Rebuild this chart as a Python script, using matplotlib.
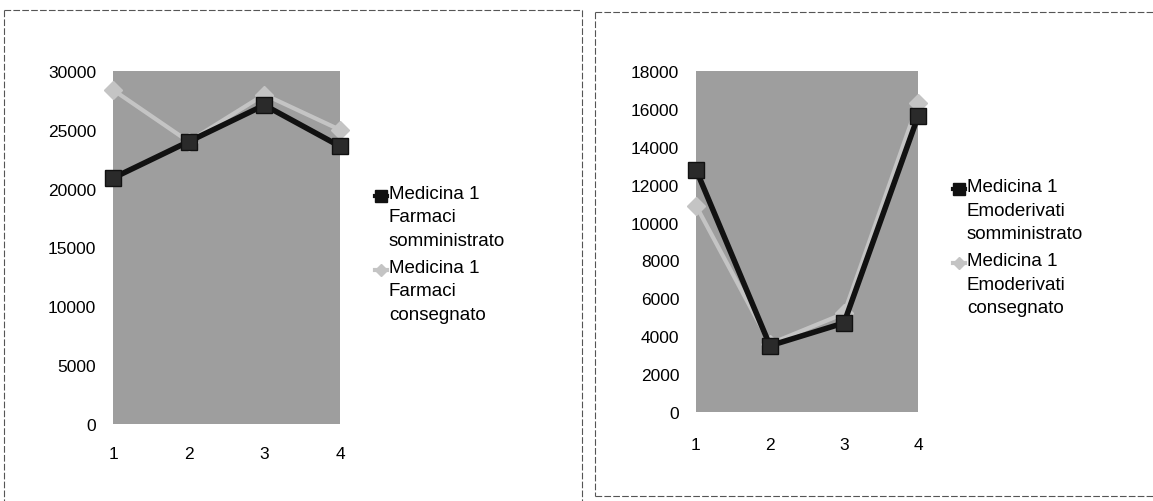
import matplotlib.pyplot as plt
from matplotlib.lines import Line2D
import numpy as np

# data
periods = [1, 2, 3, 4]
farmaci_somm = [20900, 24000, 27100, 23600]
farmaci_cons = [28400, 24000, 28000, 25000]
emo_somm = [12800, 3500, 4700, 15600]
emo_cons = [10900, 3600, 5200, 16300]

labels_left = ["Medicina 1\nFarmaci\nsomministrato", "Medicina 1\nFarmaci\nconsegnato"]
labels_right = ["Medicina 1\nEmoderivati\nsomministrato", "Medicina 1\nEmoderivati\nconsegnato"]

W, H = 1153, 502
fig = plt.figure(figsize=(W / 100, H / 100), dpi=100)
plt.rcParams['font.family'] = ['Liberation Sans', 'DejaVu Sans']

bg = '#9e9e9e'
dark = '#111111'
light = '#c4c4c4'
fs_tick = 12.5
fs_leg = 13.5


def px_axes(x0, y0, x1, y1):
    return fig.add_axes([x0 / W, 1 - y1 / H, (x1 - x0) / W, (y1 - y0) / H])


def draw_panel(ax, s1, s2, ymax, ystep, labels, legx, legy, xpad):
    ax.set_facecolor(bg)
    ax.plot(periods, s2, color=light, lw=3, marker='D', ms=9,
            mfc=light, mec=light, clip_on=False, zorder=3)
    ax.plot(periods, s1, color=dark, lw=4, marker='s', ms=12,
            mfc='#2a2a2a', mec=dark, clip_on=False, zorder=4)
    ax.set_xlim(1, 4)
    ax.set_ylim(0, ymax)
    ax.set_xticks(periods)
    ax.set_yticks(np.arange(0, ymax + 1, ystep))
    ax.tick_params(length=0, labelsize=fs_tick, colors='black')
    ax.tick_params(axis='x', pad=xpad)
    ax.tick_params(axis='y', pad=12)
    for sp in ax.spines.values():
        sp.set_visible(False)
    # manual legend
    for i, (lab, c, m, ms) in enumerate([(labels[0], dark, 's', 8), (labels[1], light, 'D', 6)]):
        yy = legy + i * 74
        fig.add_artist(Line2D([(legx - 14) / W, (legx - 2) / W], [1 - yy / H] * 2,
                              color=c, lw=3))
        fig.add_artist(Line2D([(legx - 8) / W], [1 - yy / H], marker=m, ms=ms,
                              color=c, mec=c))
        fig.text(legx / W, 1 - (yy - 11) / H, lab, fontsize=fs_leg, va='top',
                 ha='left', linespacing=1.5)


ax1 = px_axes(113, 72, 340, 425)
draw_panel(ax1, farmaci_somm, farmaci_cons, 30000, 5000, labels_left, 389, 197, 16)

ax2 = px_axes(696, 72, 918, 413)
draw_panel(ax2, emo_somm, emo_cons, 18000, 2000, labels_right, 967, 190, 18)

# panel frames
frame = dict(color='#555555', lw=0.8, ls=(0, (6, 2)))
fig.add_artist(Line2D([4 / W, 4 / W], [1 - 11 / H, 0], **frame))
fig.add_artist(Line2D([4 / W, 582 / W], [1 - 11 / H, 1 - 11 / H], **frame))
fig.add_artist(Line2D([582 / W, 582 / W], [1 - 11 / H, 0], **frame))
fig.add_artist(Line2D([595 / W, 595 / W], [1 - 13 / H, 1 - 497 / H], **frame))
fig.add_artist(Line2D([595 / W, 1], [1 - 13 / H, 1 - 13 / H], **frame))
fig.add_artist(Line2D([595 / W, 1], [1 - 497 / H, 1 - 497 / H], **frame))

fig.savefig('out.png', dpi=100)
